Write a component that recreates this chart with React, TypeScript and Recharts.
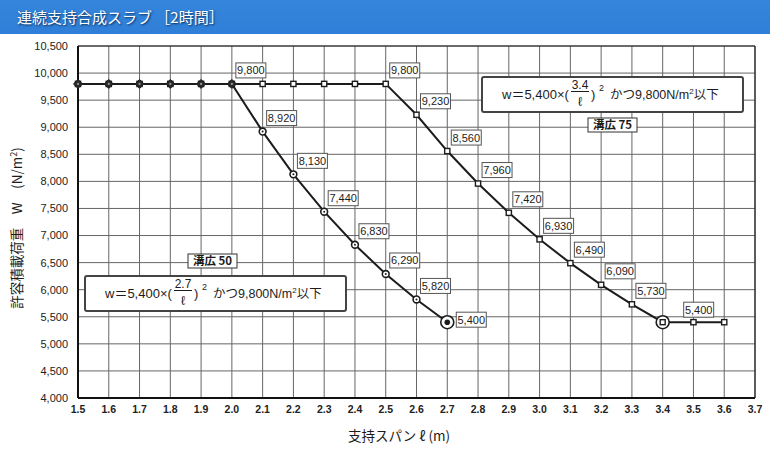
import React from 'react';
import { LineChart, Line, XAxis, YAxis, CartesianGrid, ReferenceLine, LabelList } from 'recharts';

const spans = [1.5, 1.6, 1.7, 1.8, 1.9, 2.0, 2.1, 2.2, 2.3, 2.4, 2.5, 2.6, 2.7, 2.8, 2.9, 3.0, 3.1, 3.2, 3.3, 3.4, 3.5, 3.6];
const load50: (number | null)[] = [9800, 9800, 9800, 9800, 9800, 9800, 8920, 8130, 7440, 6830, 6290, 5820, 5400, null, null, null, null, null, null, null, null, null];
const load75: (number | null)[] = [9800, 9800, 9800, 9800, 9800, 9800, 9800, 9800, 9800, 9800, 9800, 9230, 8560, 7960, 7420, 6930, 6490, 6090, 5730, 5400, 5400, 5400];
const xTicks = [1.5, 1.6, 1.7, 1.8, 1.9, 2.0, 2.1, 2.2, 2.3, 2.4, 2.5, 2.6, 2.7, 2.8, 2.9, 3.0, 3.1, 3.2, 3.3, 3.4, 3.5, 3.6, 3.7];
const yTicks = [4000, 4500, 5000, 5500, 6000, 6500, 7000, 7500, 8000, 8500, 9000, 9500, 10000, 10500];
const labeled50 = [5, 6, 7, 8, 9, 10, 11, 12];
const labeled75 = [10, 11, 12, 13, 14, 15, 16, 17, 18, 19];
const end50 = 12;
const end75 = 19;
const flat50Last = 5;

const data = spans.map((s, i) => ({ span: s, w50: load50[i], w75: load75[i] }));

const NUM_FONT = '"Liberation Sans", Arial, "Noto Sans CJK JP", sans-serif';
const JP_FONT = '"Noto Sans CJK JP", "Liberation Sans", sans-serif';
const INK = '#1c1c1c';

const fmt = (v: number) => v.toLocaleString('en-US');

const Dot50 = (p: any) => {
  const { cx, cy, index, value } = p;
  if (value == null || cx == null || cy == null) return <g key={`d50-${index}`} />;
  if (index === end50) {
    return (
      <g key={`d50-${index}`}>
        <circle cx={cx} cy={cy} r={6.5} fill="#fff" stroke={INK} strokeWidth={1.6} />
        <circle cx={cx} cy={cy} r={2.8} fill={INK} />
      </g>
    );
  }
  if (index <= flat50Last) {
    return (
      <g key={`d50-${index}`}>
        <polygon points={`${cx},${cy - 4.5} ${cx + 4.5},${cy} ${cx},${cy + 4.5} ${cx - 4.5},${cy}`} fill="#2a2a2a" stroke={INK} strokeWidth={1} />
        <circle cx={cx} cy={cy} r={1.1} fill="#999" />
      </g>
    );
  }
  return (
    <g key={`d50-${index}`}>
      <circle cx={cx} cy={cy} r={3.4} fill="#fff" stroke={INK} strokeWidth={1.6} />
      <circle cx={cx} cy={cy} r={1} fill={INK} />
    </g>
  );
};

const Dot75 = (p: any) => {
  const { cx, cy, index, value } = p;
  if (value == null || cx == null || cy == null) return <g key={`d75-${index}`} />;
  if (index === end75) {
    return (
      <g key={`d75-${index}`}>
        <circle cx={cx} cy={cy} r={6.5} fill="#fff" stroke={INK} strokeWidth={1.6} />
        <rect x={cx - 2.5} y={cy - 2.5} width={5} height={5} fill="#fff" stroke={INK} strokeWidth={1.4} />
      </g>
    );
  }
  return (
    <g key={`d75-${index}`}>
      <rect x={cx - 2.6} y={cy - 2.6} width={5.2} height={5.2} fill="#fff" stroke={INK} strokeWidth={1.4} />
    </g>
  );
};

const makeLabel = (labeled: number[], endIdx: number, endDx: number, endDy: number) => (p: any) => {
  const { x, y, value, index } = p;
  if (value == null || !labeled.includes(index)) return null;
  const isEnd = index === endIdx;
  const bx = x + (isEnd ? endDx : 4);
  const by = y + (isEnd ? endDy : -21);
  return (
    <g key={`lab-${endIdx}-${index}`}>
      <rect x={bx} y={by} width={30} height={15} fill="#fff" stroke="#555" strokeWidth={1} />
      <text x={bx + 15} y={by + 11.5} textAnchor="middle" fontSize={11} fontFamily={NUM_FONT} fill={INK}>
        {fmt(value)}
      </text>
    </g>
  );
};

const Formula = ({ x0, y0, num }: { x0: number; y0: number; num: string }) => (
  <g fontFamily={NUM_FONT} fill={INK}>
    <rect x={x0} y={y0} width={261} height={35} rx={2} fill="#fff" stroke="#444" strokeWidth={2} />
    <text x={x0 + 20} y={y0 + 22} fontSize={13}>w＝5,400×(</text>
    <text x={x0 + 98} y={y0 + 12} fontSize={12} textAnchor="middle">{num}</text>
    <line x1={x0 + 89} x2={x0 + 107} y1={y0 + 14.5} y2={y0 + 14.5} stroke={INK} strokeWidth={1} />
    <text x={x0 + 98} y={y0 + 29} fontSize={13} textAnchor="middle">ℓ</text>
    <text x={x0 + 109} y={y0 + 22} fontSize={13}>)</text>
    <text x={x0 + 117} y={y0 + 14} fontSize={9}>2</text>
    <text x={x0 + 128} y={y0 + 22} fontSize={12.5}>
      かつ9,800N/m<tspan fontSize={8} dy={-5}>2</tspan><tspan dy={5}>以下</tspan>
    </text>
  </g>
);

const Tag = ({ x0, y0, text }: { x0: number; y0: number; text: string }) => (
  <g>
    <rect x={x0} y={y0} width={49} height={14} fill="#fff" stroke="#333" strokeWidth={1} />
    <text x={x0 + 24.5} y={y0 + 11} textAnchor="middle" fontSize={11.5} fontWeight="bold" fontFamily={JP_FONT} fill={INK}>
      {text}
    </text>
  </g>
);

export default function App() {
  return (
    <div style={{ position: 'fixed', left: 0, top: 0, width: 770, height: 450, background: '#fff', overflow: 'hidden' }}>
      <LineChart width={770} height={450} data={data} margin={{ top: 46, right: 15, bottom: 22, left: 0 }}>
        <CartesianGrid stroke="#666" strokeWidth={1} />
        <XAxis
          dataKey="span"
          type="number"
          domain={[1.5, 3.7]}
          ticks={xTicks}
          tickFormatter={(v: number) => v.toFixed(1)}
          height={30}
          tickSize={0}
          tickMargin={8}
          axisLine={{ stroke: '#111', strokeWidth: 2 }}
          tick={{ fontSize: 10.5, fontFamily: NUM_FONT, fill: '#222', fontWeight: 'bold' }}
          interval={0}
        />
        <YAxis
          type="number"
          domain={[4000, 10500]}
          ticks={yTicks}
          tickFormatter={(v: number) => fmt(v)}
          width={78}
          tickSize={0}
          tickMargin={10}
          axisLine={{ stroke: '#111', strokeWidth: 2 }}
          tick={{ fontSize: 11, fontFamily: NUM_FONT, fill: '#222' }}
          interval={0}
        />
        <ReferenceLine y={10500} stroke="#222" strokeWidth={1.2} />
        <ReferenceLine x={3.7} stroke="#222" strokeWidth={1.2} />
        <Line
          type="linear"
          dataKey="w75"
          stroke={INK}
          strokeWidth={2}
          dot={Dot75}
          activeDot={false}
          isAnimationActive={false}
          connectNulls={false}
        >
          <LabelList dataKey="w75" content={makeLabel(labeled75, end75, 21, -20)} />
        </Line>
        <Line
          type="linear"
          dataKey="w50"
          stroke={INK}
          strokeWidth={2}
          dot={Dot50}
          activeDot={false}
          isAnimationActive={false}
          connectNulls={false}
        >
          <LabelList dataKey="w50" content={makeLabel(labeled50, end50, 9, -10)} />
        </Line>
      </LineChart>
      <svg width={770} height={450} style={{ position: 'absolute', left: 0, top: 0, pointerEvents: 'none' }}>
        <Formula x0={85} y0={276} num="2.7" />
        <Tag x0={188} y0={254} text="溝広 50" />
        <Formula x0={482} y0={77} num="3.4" />
        <Tag x0={588} y0={118} text="溝広 75" />
        <text
          transform="translate(22,228) rotate(-90)"
          textAnchor="middle"
          fontSize={13.5}
          fontFamily={JP_FONT}
          fill={INK}
        >
          許容積載荷重　W　(N/m<tspan fontSize={9} dy={-5}>2</tspan><tspan dy={5}>)</tspan>
        </text>
        <text x={399} y={441} textAnchor="middle" fontSize={13.5} fontFamily={JP_FONT} fill={INK}>
          支持スパン ℓ (m)
        </text>
      </svg>
      <div
        style={{
          position: 'absolute',
          left: 0,
          top: 0,
          width: 770,
          height: 34,
          background: 'linear-gradient(#3585dc, #2f7fd8)',
          color: '#fff',
          fontFamily: JP_FONT,
          fontSize: 15,
          lineHeight: '33px',
          paddingLeft: 17,
          boxSizing: 'border-box',
          textShadow: '1px 1px 2px #0b2a55',
          whiteSpace: 'pre',
        }}
      >
        連続支持合成スラブ ［2時間］
      </div>
    </div>
  );
}
